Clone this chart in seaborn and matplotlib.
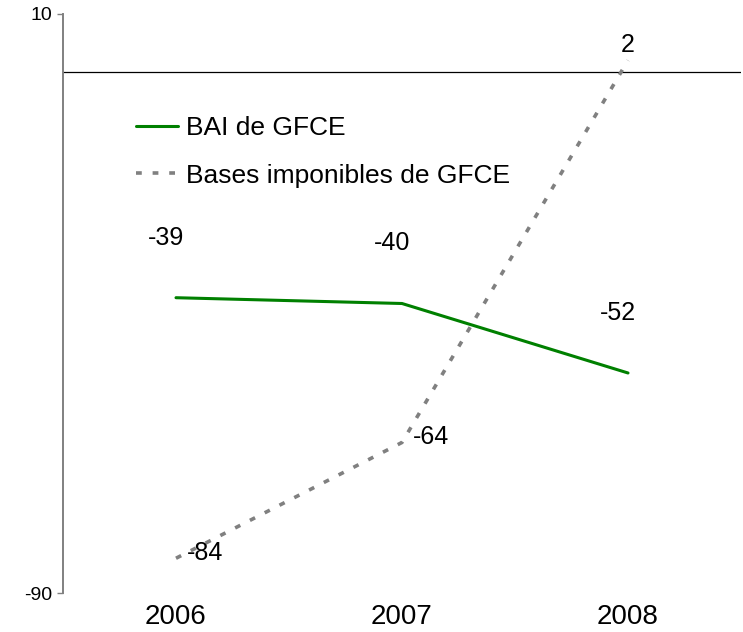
import matplotlib
matplotlib.use("Agg")
import matplotlib.pyplot as plt
import seaborn as sns
import pandas as pd

# Series values (millions)
years = ["2006", "2007", "2008"]
bai_gfce = [-39, -40, -52]
bases_gfce = [-84, -64, 2]
series_names = ["BAI de GFCE", "Bases imponibles de GFCE"]
y_ticks = [10, -90]

sns.set_style("white")
plt.rcParams["font.family"] = ["Liberation Sans", "DejaVu Sans"]
plt.rcParams["text.color"] = "black"
plt.rcParams["xtick.color"] = "black"
plt.rcParams["ytick.color"] = "black"

W, H = 743, 632
fig = plt.figure(figsize=(W / 100, H / 100), dpi=100)
ax = fig.add_axes([63 / W, 1 - 593 / H, (741 - 63) / W, (593 - 14) / H])

idx = list(range(len(years)))
df_bai = pd.DataFrame({"pos": idx, "value": bai_gfce})
df_bases = pd.DataFrame({"pos": idx, "value": bases_gfce})

green = "#008000"
grey = "#808080"

sns.lineplot(data=df_bai, x="pos", y="value", ax=ax, color=green,
             linewidth=2.2, label=series_names[0], legend=False)
sns.lineplot(data=df_bases, x="pos", y="value", ax=ax, color=grey,
             linewidth=2.6, label=series_names[1], legend=False)
ax.lines[1].set_dashes([1.6, 3.0])

# zero reference line
ax.axhline(0, color="black", linewidth=0.9, zorder=1)

ax.set_xlim(-0.5, 2.5)
ax.set_ylim(-90, 10)
ax.set_yticks(y_ticks)
ax.set_yticklabels([str(t) for t in y_ticks], fontsize=14)
ax.set_xticks(idx)
ax.set_xticklabels(years, fontsize=20)
ax.set_xlabel("")
ax.set_ylabel("")

for side in ["top", "right", "bottom"]:
    ax.spines[side].set_visible(False)
ax.spines["left"].set_color(grey)
ax.spines["left"].set_linewidth(1.4)
ax.tick_params(axis="y", direction="out", length=4, width=1, color=grey,
               labelcolor="black", pad=4, left=True)
ax.tick_params(axis="x", length=0, pad=8, labelcolor="black")

# value labels
for i, v in enumerate(bai_gfce):
    ax.annotate(str(v), (i, v), xytext=(-10, 60), textcoords="offset pixels",
                ha="center", va="center", fontsize=18, color="black")
for i, v in enumerate(bases_gfce):
    if v > 0:
        ax.annotate(str(v), (i, v), xytext=(0, 15), textcoords="offset pixels",
                    ha="center", va="center", fontsize=18, color="black")
    else:
        ax.annotate(str(v), (i, v), xytext=(11, 5), textcoords="offset pixels",
                    ha="left", va="center", fontsize=18, color="black")

leg = ax.legend(loc="upper left", bbox_to_anchor=(0.073, 0.865), frameon=False,
                fontsize=19, handlelength=1.6, handletextpad=0.3,
                labelspacing=0.9)
for t in leg.get_texts():
    t.set_color("black")

fig.savefig("out.png", dpi=100)
